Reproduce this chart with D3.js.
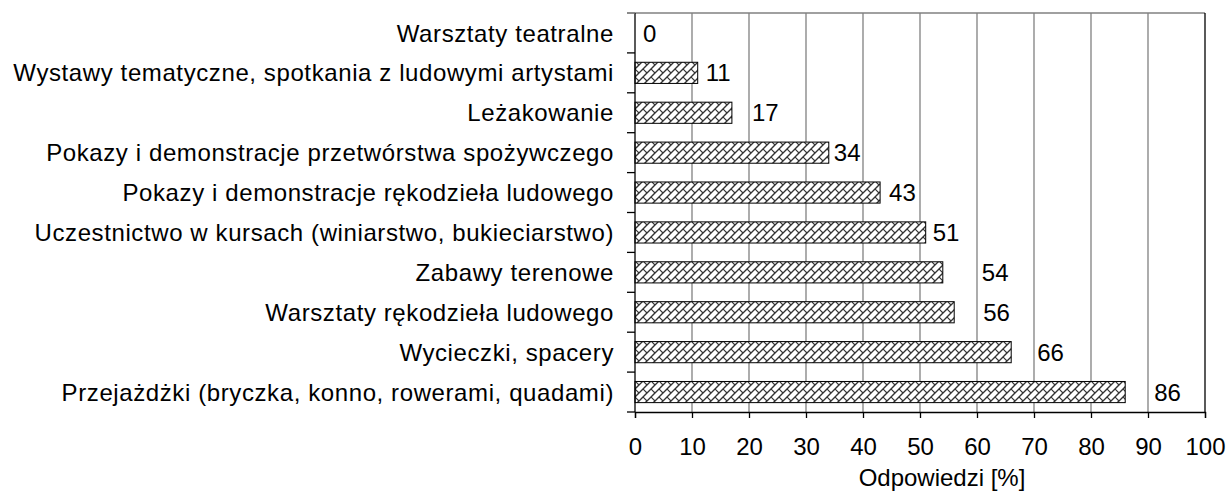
<!DOCTYPE html>
<html>
<head>
<meta charset="utf-8">
<script src="https://cdn.jsdelivr.net/npm/d3@7"></script>
<style>
  body { margin: 0; background: #fff; }
  text { font-family: "Liberation Sans", Arial, sans-serif; fill: #000; }
</style>
</head>
<body>
<script>
const width = 1230;
const height = 493;
const margin = { top: 13, right: 25, bottom: 81, left: 635 };

// Categories from top to bottom
const categories = [
    'Warsztaty teatralne',
    'Wystawy tematyczne, spotkania z ludowymi artystami',
    'Leżakowanie',
    'Pokazy i demonstracje przetwórstwa spożywczego',
    'Pokazy i demonstracje rękodzieła ludowego',
    'Uczestnictwo w kursach (winiarstwo, bukieciarstwo)',
    'Zabawy terenowe',
    'Warsztaty rękodzieła ludowego',
    'Wycieczki, spacery',
    'Przejażdżki (bryczka, konno, rowerami, quadami)'
];
const values = [0, 11, 17, 34, 43, 51, 54, 56, 66, 86];
const xTicks = [0, 10, 20, 30, 40, 50, 60, 70, 80, 90, 100];
const axisTitle = 'Odpowiedzi [%]';

// label gaps after the bar end (px), as placed in the original
const labelGap = [8, 8, 20, 5, 9, 7, 39, 29, 26, 29];

const innerW = width - margin.left - margin.right;
const innerH = height - margin.top - margin.bottom;

const svg = d3.select('body').append('svg')
    .attr('width', width)
    .attr('height', height);

// hatch pattern (diagonal brick)
const defs = svg.append('defs');
const pat = defs.append('pattern')
    .attr('id', 'hatch')
    .attr('patternUnits', 'userSpaceOnUse')
    .attr('width', 8)
    .attr('height', 8);
pat.append('rect').attr('width', 8).attr('height', 8).attr('fill', '#fff');
pat.append('path')
    .attr('d', 'M-1,9 L9,-1 M-1,1 L1,-1 M7,9 L9,7')
    .attr('stroke', '#333')
    .attr('stroke-width', 1.4);
pat.append('path')
    .attr('d', 'M0,0 L4,4')
    .attr('stroke', '#333')
    .attr('stroke-width', 1.1);

const g = svg.append('g')
    .attr('transform', `translate(${margin.left},${margin.top})`);

const x = d3.scaleLinear().domain([0, 100]).range([0, innerW]);
const y = d3.scaleBand().domain(categories).range([0, innerH]).paddingInner(0.47).paddingOuter(0.235);

// gridlines
g.append('g')
    .selectAll('line')
    .data(xTicks.slice(1, -1))
    .enter().append('line')
    .attr('x1', d => x(d)).attr('x2', d => x(d))
    .attr('y1', 0).attr('y2', innerH)
    .attr('stroke', '#808080')
    .attr('stroke-width', 1.3);

// top border
g.append('line')
    .attr('x1', -8).attr('x2', innerW)
    .attr('y1', 0).attr('y2', 0)
    .attr('stroke', '#808080')
    .attr('stroke-width', 1.3);

// right border
g.append('line')
    .attr('x1', innerW).attr('x2', innerW)
    .attr('y1', 0).attr('y2', innerH)
    .attr('stroke', '#000')
    .attr('stroke-width', 1.3);

// bars
g.append('g')
    .selectAll('rect')
    .data(values.map((v, i) => ({ v, c: categories[i] })).filter(d => d.v > 0))
    .enter().append('rect')
    .attr('x', x(0))
    .attr('y', d => y(d.c))
    .attr('width', d => x(d.v) - x(0))
    .attr('height', y.bandwidth())
    .attr('fill', 'url(#hatch)')
    .attr('stroke', '#000')
    .attr('stroke-width', 1);

// value labels
g.append('g')
    .selectAll('text')
    .data(values)
    .enter().append('text')
    .attr('x', (d, i) => x(d) + labelGap[i])
    .attr('y', (d, i) => y(categories[i]) + y.bandwidth() / 2)
    .attr('dy', '0.36em')
    .attr('font-size', '24px')
    .text(d => d);

// x axis
const xAxis = g.append('g')
    .attr('transform', `translate(0,${innerH})`)
    .call(d3.axisBottom(x).tickValues(xTicks).tickSize(6).tickPadding(20).tickFormat(d3.format('d')));
xAxis.select('.domain').attr('stroke-width', 1.3);
xAxis.selectAll('.tick line').attr('stroke-width', 1.3);
xAxis.selectAll('text')
    .attr('font-size', '24px')
    .attr('font-family', '"Liberation Sans", Arial, sans-serif');

// y axis: ticks on category boundaries
const bounds = d3.range(categories.length + 1).map(i => i * innerH / categories.length);
g.append('line')
    .attr('x1', 0).attr('x2', 0)
    .attr('y1', 0).attr('y2', innerH)
    .attr('stroke', '#000')
    .attr('stroke-width', 1.3);
g.append('g')
    .selectAll('line')
    .data(bounds)
    .enter().append('line')
    .attr('x1', -8).attr('x2', 0)
    .attr('y1', d => d).attr('y2', d => d)
    .attr('stroke', d => d === 0 ? '#808080' : '#000')
    .attr('stroke-width', 1.3);

// category labels
g.append('g')
    .selectAll('text')
    .data(categories)
    .enter().append('text')
    .attr('x', -21)
    .attr('y', d => y(d) + y.bandwidth() / 2)
    .attr('dy', '0.36em')
    .attr('text-anchor', 'end')
    .attr('font-size', '24px')
    .attr('letter-spacing', '0.6px')
    .text(d => d);

// axis title
svg.append('text')
    .attr('x', 942)
    .attr('y', 486)
    .attr('text-anchor', 'middle')
    .attr('font-size', '24px')
    .text(axisTitle);
</script>
</body>
</html>
